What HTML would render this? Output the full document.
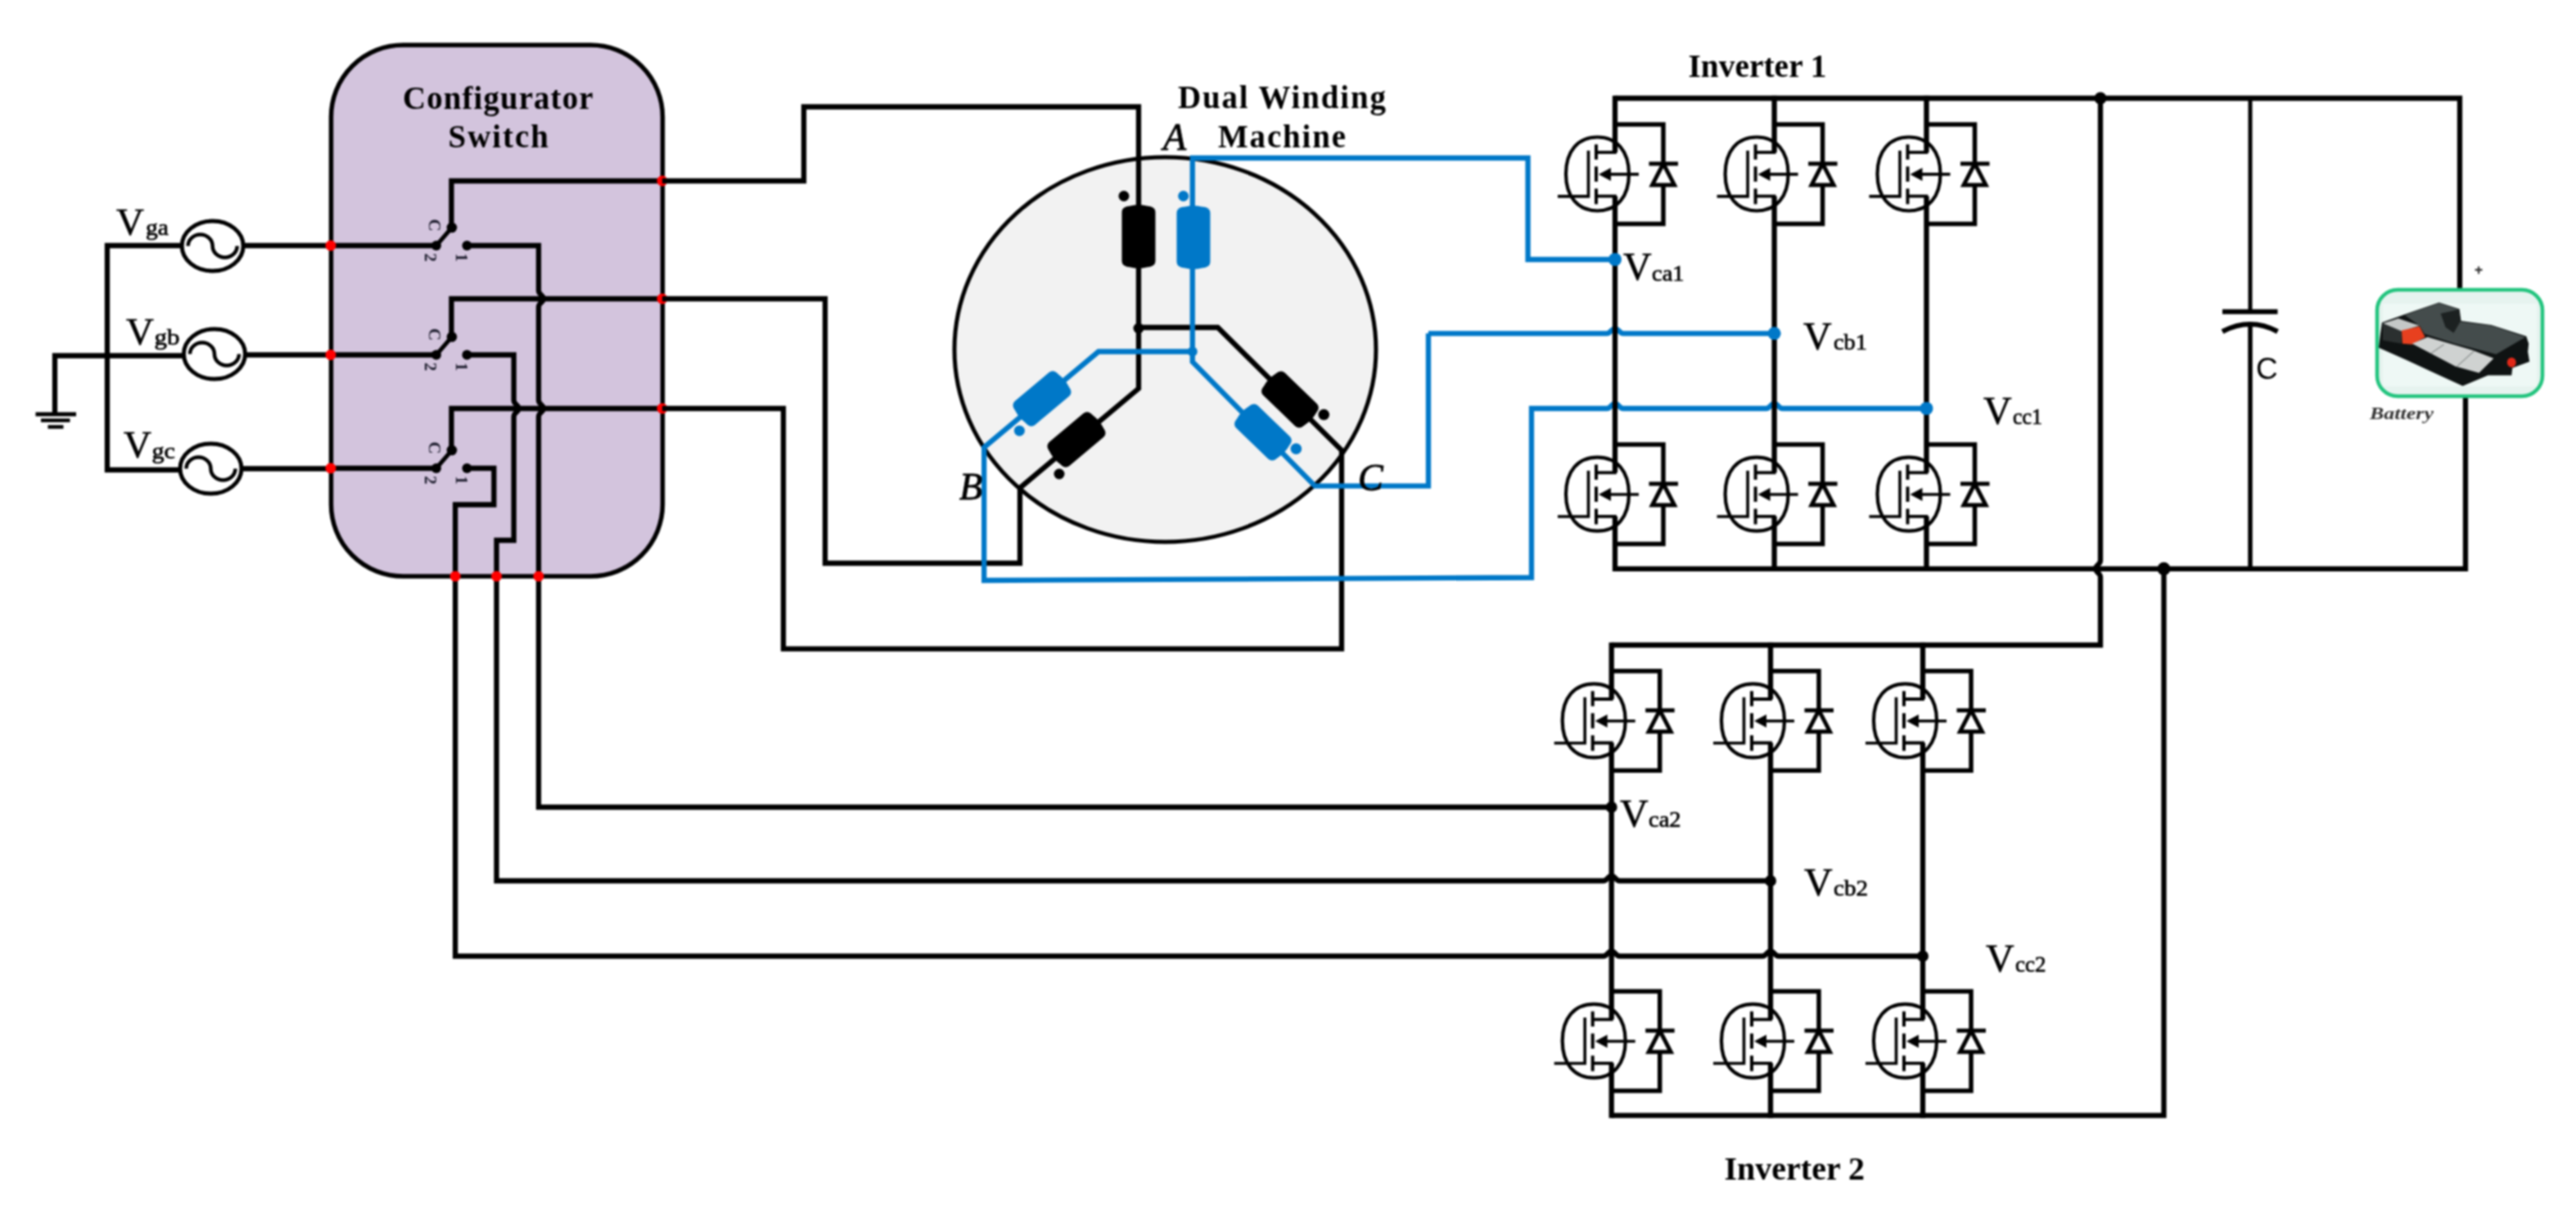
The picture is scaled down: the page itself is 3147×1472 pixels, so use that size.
<!DOCTYPE html><html><head><meta charset="utf-8"><style>html,body{margin:0;padding:0;background:#fff;}svg{display:block;filter:blur(1px);}</style></head><body>
<svg width="3147" height="1472" viewBox="0 0 3147 1472" font-family="Liberation Serif, serif">
<rect x="0" y="0" width="3147" height="1472" fill="#fff"/>
<rect x="404.5" y="55" width="405" height="649" rx="88" ry="88" fill="#d3c4dd" stroke="#000" stroke-width="5.5"/>
<text x="492" y="132.5" font-size="39" font-weight="bold" textLength="232.5" lengthAdjust="spacing">Configurator</text>
<text x="547.5" y="180" font-size="39" font-weight="bold" textLength="122.5" lengthAdjust="spacing">Switch</text>
<path d="M222,300 L131,300 L131,574 L220,574" fill="none" stroke="#000" stroke-width="6.3" stroke-linejoin="miter" />
<path d="M67,506 L67,434.5 L225,434.5" fill="none" stroke="#000" stroke-width="6.3" stroke-linejoin="miter" />
<path d="M297,300 L404,300" fill="none" stroke="#000" stroke-width="6.3" stroke-linejoin="miter" />
<path d="M299,433.5 L404,433.5" fill="none" stroke="#000" stroke-width="6.3" stroke-linejoin="miter" />
<path d="M295,572.5 L404,572.5" fill="none" stroke="#000" stroke-width="6.3" stroke-linejoin="miter" />
<ellipse cx="259.7" cy="300.5" rx="37.5" ry="30.5" fill="none" stroke="#000" stroke-width="5"/>
<path d="M229.7,300.5 A15,14 0 0 1 259.7,300.5 A15,14 0 0 0 289.7,300.5" fill="none" stroke="#000" stroke-width="4.5"/>
<ellipse cx="262" cy="432.5" rx="37.5" ry="30.5" fill="none" stroke="#000" stroke-width="5"/>
<path d="M232,432.5 A15,14 0 0 1 262,432.5 A15,14 0 0 0 292,432.5" fill="none" stroke="#000" stroke-width="4.5"/>
<ellipse cx="257.5" cy="572.5" rx="37.5" ry="30.5" fill="none" stroke="#000" stroke-width="5"/>
<path d="M227.5,572.5 A15,14 0 0 1 257.5,572.5 A15,14 0 0 0 287.5,572.5" fill="none" stroke="#000" stroke-width="4.5"/>
<line x1="43.5" y1="506" x2="93" y2="506" stroke="#000" stroke-width="5"/>
<line x1="50" y1="513.5" x2="85.5" y2="513.5" stroke="#000" stroke-width="4.5"/>
<line x1="58.5" y1="521.5" x2="77.5" y2="521.5" stroke="#000" stroke-width="4.5"/>
<text x="142" y="286.5" font-size="47" stroke="#000" stroke-width="0.6">V</text><text x="178" y="287.0" font-size="28" stroke="#000" stroke-width="0.7" textLength="28" lengthAdjust="spacingAndGlyphs">ga</text>
<text x="154" y="420.5" font-size="47" stroke="#000" stroke-width="0.6">V</text><text x="188.5" y="421.0" font-size="28" stroke="#000" stroke-width="0.7" textLength="31" lengthAdjust="spacingAndGlyphs">gb</text>
<text x="151" y="559" font-size="47" stroke="#000" stroke-width="0.6">V</text><text x="185.5" y="559.5" font-size="28" stroke="#000" stroke-width="0.7" textLength="28.5" lengthAdjust="spacingAndGlyphs">gc</text>
<path d="M404,300 L533,300" fill="none" stroke="#000" stroke-width="6.3" stroke-linejoin="miter" />
<path d="M533,300 L552,278" fill="none" stroke="#000" stroke-width="5" stroke-linejoin="miter" />
<path d="M809,221 L551.5,221 L551.5,278" fill="none" stroke="#000" stroke-width="6.3" stroke-linejoin="miter" />
<circle cx="533" cy="300" r="6" fill="#000"/>
<circle cx="570.5" cy="300" r="6" fill="#000"/>
<circle cx="552" cy="278" r="6.3" fill="#000"/>
<text x="0" y="0" dy="0.35em" font-size="21" font-weight="bold" text-anchor="middle" fill="#1c1c2c" transform="translate(531,275) rotate(90)">C</text>
<text x="0" y="0" dy="0.35em" font-size="21" font-weight="bold" text-anchor="middle" fill="#1c1c2c" transform="translate(526,314.5) rotate(90)">2</text>
<text x="0" y="0" dy="0.35em" font-size="21" font-weight="bold" text-anchor="middle" fill="#1c1c2c" transform="translate(564.5,314.5) rotate(90)">1</text>
<path d="M404,433.5 L533,433.5" fill="none" stroke="#000" stroke-width="6.3" stroke-linejoin="miter" />
<path d="M533,433.5 L552,411.5" fill="none" stroke="#000" stroke-width="5" stroke-linejoin="miter" />
<path d="M809,365 L551.5,365 L551.5,411.5" fill="none" stroke="#000" stroke-width="6.3" stroke-linejoin="miter" />
<circle cx="533" cy="433.5" r="6" fill="#000"/>
<circle cx="570.5" cy="433.5" r="6" fill="#000"/>
<circle cx="552" cy="411.5" r="6.3" fill="#000"/>
<text x="0" y="0" dy="0.35em" font-size="21" font-weight="bold" text-anchor="middle" fill="#1c1c2c" transform="translate(531,408.5) rotate(90)">C</text>
<text x="0" y="0" dy="0.35em" font-size="21" font-weight="bold" text-anchor="middle" fill="#1c1c2c" transform="translate(526,448.0) rotate(90)">2</text>
<text x="0" y="0" dy="0.35em" font-size="21" font-weight="bold" text-anchor="middle" fill="#1c1c2c" transform="translate(564.5,448.0) rotate(90)">1</text>
<path d="M404,572 L533,572" fill="none" stroke="#000" stroke-width="6.3" stroke-linejoin="miter" />
<path d="M533,572 L552,550" fill="none" stroke="#000" stroke-width="5" stroke-linejoin="miter" />
<path d="M809,499 L551.5,499 L551.5,550" fill="none" stroke="#000" stroke-width="6.3" stroke-linejoin="miter" />
<circle cx="533" cy="572" r="6" fill="#000"/>
<circle cx="570.5" cy="572" r="6" fill="#000"/>
<circle cx="552" cy="550" r="6.3" fill="#000"/>
<text x="0" y="0" dy="0.35em" font-size="21" font-weight="bold" text-anchor="middle" fill="#1c1c2c" transform="translate(531,547) rotate(90)">C</text>
<text x="0" y="0" dy="0.35em" font-size="21" font-weight="bold" text-anchor="middle" fill="#1c1c2c" transform="translate(526,586.5) rotate(90)">2</text>
<text x="0" y="0" dy="0.35em" font-size="21" font-weight="bold" text-anchor="middle" fill="#1c1c2c" transform="translate(564.5,586.5) rotate(90)">1</text>
<path d="M570.5,300 L658,300 L658,355 C658,360.0 664,360.5 664,365 C664,369.5 658,370.0 658,375 L658,489 C658,494.0 664,494.5 664,499 C664,503.5 658,504.0 658,509 L658,986 L1968.7,986" fill="none" stroke="#000" stroke-width="6.3" stroke-linejoin="miter" />
<path d="M570.5,433.5 L627.7,433.5 L627.7,489 C627.7,494.0 633.7,494.5 633.7,499 C633.7,503.5 627.7,504.0 627.7,509 L627.7,660 L606.6,660 L606.6,1076 L1958.7,1076 C1963.7,1076 1964.2,1070 1968.7,1070 C1973.2,1070 1973.7,1076 1978.7,1076 L2163,1076" fill="none" stroke="#000" stroke-width="6.3" stroke-linejoin="miter" />
<path d="M570.5,572 L603.4,572 L603.4,616.5 L556.2,616.5 L556.2,1168 L1958.7,1168 C1963.7,1168 1964.2,1162 1968.7,1162 C1973.2,1162 1973.7,1168 1978.7,1168 L2153,1168 C2158.0,1168 2158.5,1162 2163,1162 C2167.5,1162 2168.0,1168 2173,1168 L2349,1168" fill="none" stroke="#000" stroke-width="6.3" stroke-linejoin="miter" />
<circle cx="404" cy="300" r="6.5" fill="#ff0000"/>
<circle cx="404" cy="433.5" r="6.5" fill="#ff0000"/>
<circle cx="404" cy="572" r="6.5" fill="#ff0000"/>
<circle cx="809" cy="221" r="6.5" fill="#ff0000"/>
<circle cx="809" cy="365" r="6.5" fill="#ff0000"/>
<circle cx="809" cy="499" r="6.5" fill="#ff0000"/>
<circle cx="556.2" cy="704" r="6.5" fill="#ff0000"/>
<circle cx="606.6" cy="704" r="6.5" fill="#ff0000"/>
<circle cx="658" cy="704" r="6.5" fill="#ff0000"/>
<ellipse cx="1423.5" cy="427" rx="257.5" ry="235" fill="#f2f2f2" stroke="#000" stroke-width="5"/>
<path d="M809,221 L982,221 L982,130.5 L1391,130.5 L1391,474.6 L1246,596 L1246,688 L1008,688 L1008,365 L809,365" fill="none" stroke="#000" stroke-width="6.3" stroke-linejoin="miter" />
<path d="M809,499 L957,499 L957,792.7 L1639,792.7 L1639,550 L1487.7,400 L1391,400" fill="none" stroke="#000" stroke-width="6.3" stroke-linejoin="miter" />
<circle cx="1391" cy="401" r="6.5" fill="#000"/>
<path d="M1972.8,317 L1866.6,317 L1866.6,193 L1456.8,193 L1456.8,442 L1606.4,593.7 L1745,593.7 L1745,407.3" fill="none" stroke="#0078c8" stroke-width="6.3" stroke-linejoin="miter" />
<path d="M1745,407.3 L1963,407.3 C1968.0,407.3 1968.5,401.3 1973,401.3 C1977.5,401.3 1978.0,407.3 1983,407.3 L2168,407.3" fill="none" stroke="#0078c8" stroke-width="6.3" stroke-linejoin="miter" />
<path d="M1456.8,429.5 L1342,429.5 L1202.2,546.5 L1202.2,709 L1871,705.5 L1871,499 L1963,499 C1968.0,499 1968.5,493 1973,493 C1977.5,493 1978.0,499 1983,499 L2157.6,499 C2162.6,499 2163.1,493 2167.6,493 C2172.1,493 2172.6,499 2177.6,499 L2353.5,499" fill="none" stroke="#0078c8" stroke-width="6.3" stroke-linejoin="miter" />
<g transform="translate(1391,289) rotate(0)"><path d="M-20.5,-30 Q-20.5,-37 -10,-37.5 Q0,-40 10,-37.5 Q20.5,-37 20.5,-30 L20.5,30 Q20.5,37 10,37.5 Q0,40 -10,37.5 Q-20.5,37 -20.5,30 Z" fill="#000"/></g>
<g transform="translate(1458,290) rotate(0)"><path d="M-20.5,-30 Q-20.5,-37 -10,-37.5 Q0,-40 10,-37.5 Q20.5,-37 20.5,-30 L20.5,30 Q20.5,37 10,37.5 Q0,40 -10,37.5 Q-20.5,37 -20.5,30 Z" fill="#0078c8"/></g>
<g transform="translate(1315,537) rotate(50)"><path d="M-19,-27 Q-19,-34 -10,-34.5 Q0,-37 10,-34.5 Q19,-34 19,-27 L19,27 Q19,34 10,34.5 Q0,37 -10,34.5 Q-19,34 -19,27 Z" fill="#000"/></g>
<g transform="translate(1273,487) rotate(50)"><path d="M-19,-27 Q-19,-34 -10,-34.5 Q0,-37 10,-34.5 Q19,-34 19,-27 L19,27 Q19,34 10,34.5 Q0,37 -10,34.5 Q-19,34 -19,27 Z" fill="#0078c8"/></g>
<g transform="translate(1576,488) rotate(-46)"><path d="M-19,-27 Q-19,-34 -10,-34.5 Q0,-37 10,-34.5 Q19,-34 19,-27 L19,27 Q19,34 10,34.5 Q0,37 -10,34.5 Q-19,34 -19,27 Z" fill="#000"/></g>
<g transform="translate(1543,528) rotate(-46)"><path d="M-19,-27 Q-19,-34 -10,-34.5 Q0,-37 10,-34.5 Q19,-34 19,-27 L19,27 Q19,34 10,34.5 Q0,37 -10,34.5 Q-19,34 -19,27 Z" fill="#0078c8"/></g>
<circle cx="1373" cy="239.5" r="6.5" fill="#000"/>
<circle cx="1445.7" cy="239.5" r="6.5" fill="#0078c8"/>
<circle cx="1294" cy="579" r="6.5" fill="#000"/>
<circle cx="1245.4" cy="526.2" r="6.5" fill="#0078c8"/>
<circle cx="1617.3" cy="506.5" r="6.8" fill="#000"/>
<circle cx="1583.4" cy="548.3" r="6.8" fill="#0078c8"/>
<circle cx="1456.8" cy="429.5" r="6" fill="#0078c8"/>
<text x="1421" y="182.5" font-size="46" font-style="italic" stroke="#000" stroke-width="0.9">A</text>
<text x="1172" y="610" font-size="46" font-style="italic" stroke="#000" stroke-width="0.9">B</text>
<text x="1659" y="599" font-size="46" font-style="italic" stroke="#000" stroke-width="0.9">C</text>
<text x="1439" y="132" font-size="39" font-weight="bold" textLength="254" lengthAdjust="spacing">Dual Winding</text>
<text x="1488" y="179.5" font-size="39" font-weight="bold" textLength="156" lengthAdjust="spacing">Machine</text>
<path d="M1973,120 L3005,120 L3005,354" fill="none" stroke="#000" stroke-width="6.3" stroke-linejoin="miter" />
<path d="M1973,694.8 L3012,694.8 L3012,484" fill="none" stroke="#000" stroke-width="6.3" stroke-linejoin="miter" />
<line x1="1973" y1="116.85" x2="1973" y2="186.20000000000002" stroke="#000" stroke-width="6.3"/>
<line x1="1973" y1="239.70000000000002" x2="1973" y2="577.3" stroke="#000" stroke-width="6.3"/>
<line x1="1973" y1="630.8" x2="1973" y2="697.9499999999999" stroke="#000" stroke-width="6.3"/>
<path d="M1973,151.9 L2032,151.9 L2032,273.4 L1973,273.4" fill="none" stroke="#000" stroke-width="5.5"/><line x1="2014.5" y1="199.9" x2="2050" y2="199.9" stroke="#000" stroke-width="5"/><polygon points="2032,199.9 2018.5,225.9 2045.5,225.9" fill="#fff" stroke="#000" stroke-width="5" stroke-linejoin="miter"/><path d="M1913.0,212.5 C1913.0,184.6 1927.6,167.5 1951.5,167.5 C1975.4,167.5 1990.0,184.6 1990.0,212.5 C1990.0,240.4 1975.4,257.5 1951.5,257.5 C1927.6,257.5 1913.0,240.4 1913.0,212.5 Z" fill="none" stroke="#000" stroke-width="4.2"/><path d="M1903,239.9 L1940.5,239.9 L1940.5,183.9" fill="none" stroke="#000" stroke-width="3.6"/><line x1="1950" y1="176.4" x2="1950" y2="194.9" stroke="#000" stroke-width="4"/><line x1="1950" y1="203.4" x2="1950" y2="221.9" stroke="#000" stroke-width="4"/><line x1="1950" y1="230.4" x2="1950" y2="249.4" stroke="#000" stroke-width="4"/><path d="M1950,186.20000000000002 L1973,186.20000000000002 L1973,172.9" fill="none" stroke="#000" stroke-width="3.8"/><path d="M1950,239.70000000000002 L1973,239.70000000000002 L1973,252.9" fill="none" stroke="#000" stroke-width="3.8"/><line x1="1965" y1="212.9" x2="2002" y2="212.9" stroke="#000" stroke-width="3.6"/><polygon points="1953,212.9 1968,204.9 1968,220.9" fill="#000"/>
<path d="M1973,543 L2032,543 L2032,664.5 L1973,664.5" fill="none" stroke="#000" stroke-width="5.5"/><line x1="2014.5" y1="591" x2="2050" y2="591" stroke="#000" stroke-width="5"/><polygon points="2032,591 2018.5,617 2045.5,617" fill="#fff" stroke="#000" stroke-width="5" stroke-linejoin="miter"/><path d="M1913.0,603.6 C1913.0,575.7 1927.6,558.6 1951.5,558.6 C1975.4,558.6 1990.0,575.7 1990.0,603.6 C1990.0,631.5 1975.4,648.6 1951.5,648.6 C1927.6,648.6 1913.0,631.5 1913.0,603.6 Z" fill="none" stroke="#000" stroke-width="4.2"/><path d="M1903,631 L1940.5,631 L1940.5,575" fill="none" stroke="#000" stroke-width="3.6"/><line x1="1950" y1="567.5" x2="1950" y2="586" stroke="#000" stroke-width="4"/><line x1="1950" y1="594.5" x2="1950" y2="613" stroke="#000" stroke-width="4"/><line x1="1950" y1="621.5" x2="1950" y2="640.5" stroke="#000" stroke-width="4"/><path d="M1950,577.3 L1973,577.3 L1973,564" fill="none" stroke="#000" stroke-width="3.8"/><path d="M1950,630.8 L1973,630.8 L1973,644" fill="none" stroke="#000" stroke-width="3.8"/><line x1="1965" y1="604" x2="2002" y2="604" stroke="#000" stroke-width="3.6"/><polygon points="1953,604 1968,596 1968,612" fill="#000"/>
<line x1="2167.6" y1="116.85" x2="2167.6" y2="186.20000000000002" stroke="#000" stroke-width="6.3"/>
<line x1="2167.6" y1="239.70000000000002" x2="2167.6" y2="577.3" stroke="#000" stroke-width="6.3"/>
<line x1="2167.6" y1="630.8" x2="2167.6" y2="697.9499999999999" stroke="#000" stroke-width="6.3"/>
<path d="M2167.6,151.9 L2226.6,151.9 L2226.6,273.4 L2167.6,273.4" fill="none" stroke="#000" stroke-width="5.5"/><line x1="2209.1" y1="199.9" x2="2244.6" y2="199.9" stroke="#000" stroke-width="5"/><polygon points="2226.6,199.9 2213.1,225.9 2240.1,225.9" fill="#fff" stroke="#000" stroke-width="5" stroke-linejoin="miter"/><path d="M2107.6,212.5 C2107.6,184.6 2122.2,167.5 2146.1,167.5 C2170.0,167.5 2184.6,184.6 2184.6,212.5 C2184.6,240.4 2170.0,257.5 2146.1,257.5 C2122.2,257.5 2107.6,240.4 2107.6,212.5 Z" fill="none" stroke="#000" stroke-width="4.2"/><path d="M2097.6,239.9 L2135.1,239.9 L2135.1,183.9" fill="none" stroke="#000" stroke-width="3.6"/><line x1="2144.6" y1="176.4" x2="2144.6" y2="194.9" stroke="#000" stroke-width="4"/><line x1="2144.6" y1="203.4" x2="2144.6" y2="221.9" stroke="#000" stroke-width="4"/><line x1="2144.6" y1="230.4" x2="2144.6" y2="249.4" stroke="#000" stroke-width="4"/><path d="M2144.6,186.20000000000002 L2167.6,186.20000000000002 L2167.6,172.9" fill="none" stroke="#000" stroke-width="3.8"/><path d="M2144.6,239.70000000000002 L2167.6,239.70000000000002 L2167.6,252.9" fill="none" stroke="#000" stroke-width="3.8"/><line x1="2159.6" y1="212.9" x2="2196.6" y2="212.9" stroke="#000" stroke-width="3.6"/><polygon points="2147.6,212.9 2162.6,204.9 2162.6,220.9" fill="#000"/>
<path d="M2167.6,543 L2226.6,543 L2226.6,664.5 L2167.6,664.5" fill="none" stroke="#000" stroke-width="5.5"/><line x1="2209.1" y1="591" x2="2244.6" y2="591" stroke="#000" stroke-width="5"/><polygon points="2226.6,591 2213.1,617 2240.1,617" fill="#fff" stroke="#000" stroke-width="5" stroke-linejoin="miter"/><path d="M2107.6,603.6 C2107.6,575.7 2122.2,558.6 2146.1,558.6 C2170.0,558.6 2184.6,575.7 2184.6,603.6 C2184.6,631.5 2170.0,648.6 2146.1,648.6 C2122.2,648.6 2107.6,631.5 2107.6,603.6 Z" fill="none" stroke="#000" stroke-width="4.2"/><path d="M2097.6,631 L2135.1,631 L2135.1,575" fill="none" stroke="#000" stroke-width="3.6"/><line x1="2144.6" y1="567.5" x2="2144.6" y2="586" stroke="#000" stroke-width="4"/><line x1="2144.6" y1="594.5" x2="2144.6" y2="613" stroke="#000" stroke-width="4"/><line x1="2144.6" y1="621.5" x2="2144.6" y2="640.5" stroke="#000" stroke-width="4"/><path d="M2144.6,577.3 L2167.6,577.3 L2167.6,564" fill="none" stroke="#000" stroke-width="3.8"/><path d="M2144.6,630.8 L2167.6,630.8 L2167.6,644" fill="none" stroke="#000" stroke-width="3.8"/><line x1="2159.6" y1="604" x2="2196.6" y2="604" stroke="#000" stroke-width="3.6"/><polygon points="2147.6,604 2162.6,596 2162.6,612" fill="#000"/>
<line x1="2353.5" y1="116.85" x2="2353.5" y2="186.20000000000002" stroke="#000" stroke-width="6.3"/>
<line x1="2353.5" y1="239.70000000000002" x2="2353.5" y2="577.3" stroke="#000" stroke-width="6.3"/>
<line x1="2353.5" y1="630.8" x2="2353.5" y2="697.9499999999999" stroke="#000" stroke-width="6.3"/>
<path d="M2353.5,151.9 L2412.5,151.9 L2412.5,273.4 L2353.5,273.4" fill="none" stroke="#000" stroke-width="5.5"/><line x1="2395.0" y1="199.9" x2="2430.5" y2="199.9" stroke="#000" stroke-width="5"/><polygon points="2412.5,199.9 2399.0,225.9 2426.0,225.9" fill="#fff" stroke="#000" stroke-width="5" stroke-linejoin="miter"/><path d="M2293.5,212.5 C2293.5,184.6 2308.1,167.5 2332.0,167.5 C2355.9,167.5 2370.5,184.6 2370.5,212.5 C2370.5,240.4 2355.9,257.5 2332.0,257.5 C2308.1,257.5 2293.5,240.4 2293.5,212.5 Z" fill="none" stroke="#000" stroke-width="4.2"/><path d="M2283.5,239.9 L2321.0,239.9 L2321.0,183.9" fill="none" stroke="#000" stroke-width="3.6"/><line x1="2330.5" y1="176.4" x2="2330.5" y2="194.9" stroke="#000" stroke-width="4"/><line x1="2330.5" y1="203.4" x2="2330.5" y2="221.9" stroke="#000" stroke-width="4"/><line x1="2330.5" y1="230.4" x2="2330.5" y2="249.4" stroke="#000" stroke-width="4"/><path d="M2330.5,186.20000000000002 L2353.5,186.20000000000002 L2353.5,172.9" fill="none" stroke="#000" stroke-width="3.8"/><path d="M2330.5,239.70000000000002 L2353.5,239.70000000000002 L2353.5,252.9" fill="none" stroke="#000" stroke-width="3.8"/><line x1="2345.5" y1="212.9" x2="2382.5" y2="212.9" stroke="#000" stroke-width="3.6"/><polygon points="2333.5,212.9 2348.5,204.9 2348.5,220.9" fill="#000"/>
<path d="M2353.5,543 L2412.5,543 L2412.5,664.5 L2353.5,664.5" fill="none" stroke="#000" stroke-width="5.5"/><line x1="2395.0" y1="591" x2="2430.5" y2="591" stroke="#000" stroke-width="5"/><polygon points="2412.5,591 2399.0,617 2426.0,617" fill="#fff" stroke="#000" stroke-width="5" stroke-linejoin="miter"/><path d="M2293.5,603.6 C2293.5,575.7 2308.1,558.6 2332.0,558.6 C2355.9,558.6 2370.5,575.7 2370.5,603.6 C2370.5,631.5 2355.9,648.6 2332.0,648.6 C2308.1,648.6 2293.5,631.5 2293.5,603.6 Z" fill="none" stroke="#000" stroke-width="4.2"/><path d="M2283.5,631 L2321.0,631 L2321.0,575" fill="none" stroke="#000" stroke-width="3.6"/><line x1="2330.5" y1="567.5" x2="2330.5" y2="586" stroke="#000" stroke-width="4"/><line x1="2330.5" y1="594.5" x2="2330.5" y2="613" stroke="#000" stroke-width="4"/><line x1="2330.5" y1="621.5" x2="2330.5" y2="640.5" stroke="#000" stroke-width="4"/><path d="M2330.5,577.3 L2353.5,577.3 L2353.5,564" fill="none" stroke="#000" stroke-width="3.8"/><path d="M2330.5,630.8 L2353.5,630.8 L2353.5,644" fill="none" stroke="#000" stroke-width="3.8"/><line x1="2345.5" y1="604" x2="2382.5" y2="604" stroke="#000" stroke-width="3.6"/><polygon points="2333.5,604 2348.5,596 2348.5,612" fill="#000"/>
<circle cx="2566" cy="120" r="7.5" fill="#000"/>
<path d="M2566,120 L2566,684.8 C2566,689.8 2560,690.3 2560,694.8 C2560,699.3 2566,699.8 2566,704.8 L2566,788 L1968.7,788" fill="none" stroke="#000" stroke-width="6.3" stroke-linejoin="miter" />
<line x1="2749" y1="120" x2="2749" y2="380.7" stroke="#000" stroke-width="5"/>
<line x1="2715" y1="380.7" x2="2782.5" y2="380.7" stroke="#000" stroke-width="6"/>
<path d="M2715,405 Q2749,387 2782.5,405" fill="none" stroke="#000" stroke-width="6"/>
<line x1="2749" y1="397" x2="2749" y2="694.8" stroke="#000" stroke-width="5.5"/>
<text x="2756" y="463" font-family="Liberation Sans, sans-serif" font-size="37">C</text>
<rect x="2904" y="354" width="202" height="130" rx="25" ry="25" fill="#e6f3ef" stroke="#22c47e" stroke-width="4.5"/>
<rect x="2911" y="371" width="188" height="101" fill="#eef8f5"/>
<g><polygon points="2910.0,393.9 2937.8,383.9 2979.7,369.5 3004.6,377.4 3006.6,391.9 3043.4,396.9 3086.3,410.8 3089.2,419.8 3088.2,429.7 3090.2,441.7 3069.3,449.6 3068.3,458.6 3039.4,458.6 3008.6,471.6 2973.7,455.6 2939.8,439.7 2906.0,424.7 2908.0,407.8" fill="#0f1313"/><polygon points="2937.8,384.9 2979.7,370.0 3003.6,377.9 3005.6,392.9 3043.4,397.8 3085.3,411.8 3049.4,432.7 2999.6,419.8 2961.8,407.8 2955.8,397.8" fill="#444c4c"/><polygon points="2981.7,382.9 3003.6,377.9 3005.6,392.9 2997.6,406.8 2987.6,399.8" fill="#1c2121"/><polygon points="2911.0,394.9 2929.9,388.9 2955.8,397.8 2933.9,404.8" fill="#c4c8c7"/><polygon points="2911.0,394.9 2933.9,404.8 2933.9,419.8 2911.0,415.8" fill="#2b3030"/><polygon points="2933.9,403.8 2955.8,398.8 2962.7,411.8 2946.8,420.8 2934.9,419.8" fill="#e8401f"/><polygon points="2946.8,419.8 2965.7,411.8 3020.5,427.7 3046.4,437.7 3028.5,455.6 2999.6,447.6 2969.7,431.7" fill="#cfd2d1"/><path d="M2969.7,431.7 L2985.7,420.8 M3001.6,447.6 L3022.5,428.7" stroke="#8a8f8e" stroke-width="1.2" fill="none"/><ellipse cx="3068.3" cy="442.7" rx="5.5" ry="6" fill="#e02818"/></g>
<text x="3028" y="336" font-size="17" font-weight="bold" stroke="#333" stroke-width="1" fill="#333" text-anchor="middle">+</text>
<text x="2895" y="512" font-size="22" font-weight="bold" font-style="italic" fill="#333" textLength="78" lengthAdjust="spacingAndGlyphs">Battery</text>
<text x="2062.5" y="93.5" font-size="40" font-weight="bold" textLength="169" lengthAdjust="spacingAndGlyphs">Inverter 1</text>
<circle cx="1973" cy="317" r="8" fill="#0078c8"/>
<circle cx="2167.6" cy="407.3" r="8" fill="#0078c8"/>
<circle cx="2353.5" cy="499" r="8" fill="#0078c8"/>
<text x="1983" y="342" font-size="48" stroke="#000" stroke-width="0.6">V</text><text x="2018" y="342.5" font-size="28" stroke="#000" stroke-width="0.7" textLength="39.5" lengthAdjust="spacingAndGlyphs">ca1</text>
<text x="2203" y="426.5" font-size="48" stroke="#000" stroke-width="0.6">V</text><text x="2240" y="427.0" font-size="28" stroke="#000" stroke-width="0.7" textLength="41" lengthAdjust="spacingAndGlyphs">cb1</text>
<text x="2423" y="517.5" font-size="48" stroke="#000" stroke-width="0.6">V</text><text x="2459" y="518.0" font-size="28" stroke="#000" stroke-width="0.7" textLength="36" lengthAdjust="spacingAndGlyphs">cc1</text>
<path d="M1968.7,1362.6 L2643.5,1362.6 L2643.5,694.8" fill="none" stroke="#000" stroke-width="6.3" stroke-linejoin="miter" />
<line x1="1968.7" y1="784.85" x2="1968.7" y2="854.0" stroke="#000" stroke-width="6.3"/>
<line x1="1968.7" y1="907.5" x2="1968.7" y2="1245.3" stroke="#000" stroke-width="6.3"/>
<line x1="1968.7" y1="1298.8" x2="1968.7" y2="1365.75" stroke="#000" stroke-width="6.3"/>
<path d="M1968.7,819.7 L2027.7,819.7 L2027.7,941.2 L1968.7,941.2" fill="none" stroke="#000" stroke-width="5.5"/><line x1="2010.2" y1="867.7" x2="2045.7" y2="867.7" stroke="#000" stroke-width="5"/><polygon points="2027.7,867.7 2014.2,893.7 2041.2,893.7" fill="#fff" stroke="#000" stroke-width="5" stroke-linejoin="miter"/><path d="M1908.7,880.3000000000001 C1908.7,852.4 1923.3,835.3000000000001 1947.2,835.3000000000001 C1971.1,835.3000000000001 1985.7,852.4 1985.7,880.3000000000001 C1985.7,908.2 1971.1,925.3000000000001 1947.2,925.3000000000001 C1923.3,925.3000000000001 1908.7,908.2 1908.7,880.3000000000001 Z" fill="none" stroke="#000" stroke-width="4.2"/><path d="M1898.7,907.7 L1936.2,907.7 L1936.2,851.7" fill="none" stroke="#000" stroke-width="3.6"/><line x1="1945.7" y1="844.2" x2="1945.7" y2="862.7" stroke="#000" stroke-width="4"/><line x1="1945.7" y1="871.2" x2="1945.7" y2="889.7" stroke="#000" stroke-width="4"/><line x1="1945.7" y1="898.2" x2="1945.7" y2="917.2" stroke="#000" stroke-width="4"/><path d="M1945.7,854.0 L1968.7,854.0 L1968.7,840.7" fill="none" stroke="#000" stroke-width="3.8"/><path d="M1945.7,907.5 L1968.7,907.5 L1968.7,920.7" fill="none" stroke="#000" stroke-width="3.8"/><line x1="1960.7" y1="880.7" x2="1997.7" y2="880.7" stroke="#000" stroke-width="3.6"/><polygon points="1948.7,880.7 1963.7,872.7 1963.7,888.7" fill="#000"/>
<path d="M1968.7,1211 L2027.7,1211 L2027.7,1332.5 L1968.7,1332.5" fill="none" stroke="#000" stroke-width="5.5"/><line x1="2010.2" y1="1259" x2="2045.7" y2="1259" stroke="#000" stroke-width="5"/><polygon points="2027.7,1259 2014.2,1285 2041.2,1285" fill="#fff" stroke="#000" stroke-width="5" stroke-linejoin="miter"/><path d="M1908.7,1271.6 C1908.7,1243.7 1923.3,1226.6 1947.2,1226.6 C1971.1,1226.6 1985.7,1243.7 1985.7,1271.6 C1985.7,1299.5 1971.1,1316.6 1947.2,1316.6 C1923.3,1316.6 1908.7,1299.5 1908.7,1271.6 Z" fill="none" stroke="#000" stroke-width="4.2"/><path d="M1898.7,1299 L1936.2,1299 L1936.2,1243" fill="none" stroke="#000" stroke-width="3.6"/><line x1="1945.7" y1="1235.5" x2="1945.7" y2="1254" stroke="#000" stroke-width="4"/><line x1="1945.7" y1="1262.5" x2="1945.7" y2="1281" stroke="#000" stroke-width="4"/><line x1="1945.7" y1="1289.5" x2="1945.7" y2="1308.5" stroke="#000" stroke-width="4"/><path d="M1945.7,1245.3 L1968.7,1245.3 L1968.7,1232" fill="none" stroke="#000" stroke-width="3.8"/><path d="M1945.7,1298.8 L1968.7,1298.8 L1968.7,1312" fill="none" stroke="#000" stroke-width="3.8"/><line x1="1960.7" y1="1272" x2="1997.7" y2="1272" stroke="#000" stroke-width="3.6"/><polygon points="1948.7,1272 1963.7,1264 1963.7,1280" fill="#000"/>
<line x1="2163" y1="784.85" x2="2163" y2="854.0" stroke="#000" stroke-width="6.3"/>
<line x1="2163" y1="907.5" x2="2163" y2="1245.3" stroke="#000" stroke-width="6.3"/>
<line x1="2163" y1="1298.8" x2="2163" y2="1365.75" stroke="#000" stroke-width="6.3"/>
<path d="M2163,819.7 L2222,819.7 L2222,941.2 L2163,941.2" fill="none" stroke="#000" stroke-width="5.5"/><line x1="2204.5" y1="867.7" x2="2240" y2="867.7" stroke="#000" stroke-width="5"/><polygon points="2222,867.7 2208.5,893.7 2235.5,893.7" fill="#fff" stroke="#000" stroke-width="5" stroke-linejoin="miter"/><path d="M2103.0,880.3000000000001 C2103.0,852.4 2117.6,835.3000000000001 2141.5,835.3000000000001 C2165.4,835.3000000000001 2180.0,852.4 2180.0,880.3000000000001 C2180.0,908.2 2165.4,925.3000000000001 2141.5,925.3000000000001 C2117.6,925.3000000000001 2103.0,908.2 2103.0,880.3000000000001 Z" fill="none" stroke="#000" stroke-width="4.2"/><path d="M2093,907.7 L2130.5,907.7 L2130.5,851.7" fill="none" stroke="#000" stroke-width="3.6"/><line x1="2140" y1="844.2" x2="2140" y2="862.7" stroke="#000" stroke-width="4"/><line x1="2140" y1="871.2" x2="2140" y2="889.7" stroke="#000" stroke-width="4"/><line x1="2140" y1="898.2" x2="2140" y2="917.2" stroke="#000" stroke-width="4"/><path d="M2140,854.0 L2163,854.0 L2163,840.7" fill="none" stroke="#000" stroke-width="3.8"/><path d="M2140,907.5 L2163,907.5 L2163,920.7" fill="none" stroke="#000" stroke-width="3.8"/><line x1="2155" y1="880.7" x2="2192" y2="880.7" stroke="#000" stroke-width="3.6"/><polygon points="2143,880.7 2158,872.7 2158,888.7" fill="#000"/>
<path d="M2163,1211 L2222,1211 L2222,1332.5 L2163,1332.5" fill="none" stroke="#000" stroke-width="5.5"/><line x1="2204.5" y1="1259" x2="2240" y2="1259" stroke="#000" stroke-width="5"/><polygon points="2222,1259 2208.5,1285 2235.5,1285" fill="#fff" stroke="#000" stroke-width="5" stroke-linejoin="miter"/><path d="M2103.0,1271.6 C2103.0,1243.7 2117.6,1226.6 2141.5,1226.6 C2165.4,1226.6 2180.0,1243.7 2180.0,1271.6 C2180.0,1299.5 2165.4,1316.6 2141.5,1316.6 C2117.6,1316.6 2103.0,1299.5 2103.0,1271.6 Z" fill="none" stroke="#000" stroke-width="4.2"/><path d="M2093,1299 L2130.5,1299 L2130.5,1243" fill="none" stroke="#000" stroke-width="3.6"/><line x1="2140" y1="1235.5" x2="2140" y2="1254" stroke="#000" stroke-width="4"/><line x1="2140" y1="1262.5" x2="2140" y2="1281" stroke="#000" stroke-width="4"/><line x1="2140" y1="1289.5" x2="2140" y2="1308.5" stroke="#000" stroke-width="4"/><path d="M2140,1245.3 L2163,1245.3 L2163,1232" fill="none" stroke="#000" stroke-width="3.8"/><path d="M2140,1298.8 L2163,1298.8 L2163,1312" fill="none" stroke="#000" stroke-width="3.8"/><line x1="2155" y1="1272" x2="2192" y2="1272" stroke="#000" stroke-width="3.6"/><polygon points="2143,1272 2158,1264 2158,1280" fill="#000"/>
<line x1="2349" y1="784.85" x2="2349" y2="854.0" stroke="#000" stroke-width="6.3"/>
<line x1="2349" y1="907.5" x2="2349" y2="1245.3" stroke="#000" stroke-width="6.3"/>
<line x1="2349" y1="1298.8" x2="2349" y2="1365.75" stroke="#000" stroke-width="6.3"/>
<path d="M2349,819.7 L2408,819.7 L2408,941.2 L2349,941.2" fill="none" stroke="#000" stroke-width="5.5"/><line x1="2390.5" y1="867.7" x2="2426" y2="867.7" stroke="#000" stroke-width="5"/><polygon points="2408,867.7 2394.5,893.7 2421.5,893.7" fill="#fff" stroke="#000" stroke-width="5" stroke-linejoin="miter"/><path d="M2289.0,880.3000000000001 C2289.0,852.4 2303.6,835.3000000000001 2327.5,835.3000000000001 C2351.4,835.3000000000001 2366.0,852.4 2366.0,880.3000000000001 C2366.0,908.2 2351.4,925.3000000000001 2327.5,925.3000000000001 C2303.6,925.3000000000001 2289.0,908.2 2289.0,880.3000000000001 Z" fill="none" stroke="#000" stroke-width="4.2"/><path d="M2279,907.7 L2316.5,907.7 L2316.5,851.7" fill="none" stroke="#000" stroke-width="3.6"/><line x1="2326" y1="844.2" x2="2326" y2="862.7" stroke="#000" stroke-width="4"/><line x1="2326" y1="871.2" x2="2326" y2="889.7" stroke="#000" stroke-width="4"/><line x1="2326" y1="898.2" x2="2326" y2="917.2" stroke="#000" stroke-width="4"/><path d="M2326,854.0 L2349,854.0 L2349,840.7" fill="none" stroke="#000" stroke-width="3.8"/><path d="M2326,907.5 L2349,907.5 L2349,920.7" fill="none" stroke="#000" stroke-width="3.8"/><line x1="2341" y1="880.7" x2="2378" y2="880.7" stroke="#000" stroke-width="3.6"/><polygon points="2329,880.7 2344,872.7 2344,888.7" fill="#000"/>
<path d="M2349,1211 L2408,1211 L2408,1332.5 L2349,1332.5" fill="none" stroke="#000" stroke-width="5.5"/><line x1="2390.5" y1="1259" x2="2426" y2="1259" stroke="#000" stroke-width="5"/><polygon points="2408,1259 2394.5,1285 2421.5,1285" fill="#fff" stroke="#000" stroke-width="5" stroke-linejoin="miter"/><path d="M2289.0,1271.6 C2289.0,1243.7 2303.6,1226.6 2327.5,1226.6 C2351.4,1226.6 2366.0,1243.7 2366.0,1271.6 C2366.0,1299.5 2351.4,1316.6 2327.5,1316.6 C2303.6,1316.6 2289.0,1299.5 2289.0,1271.6 Z" fill="none" stroke="#000" stroke-width="4.2"/><path d="M2279,1299 L2316.5,1299 L2316.5,1243" fill="none" stroke="#000" stroke-width="3.6"/><line x1="2326" y1="1235.5" x2="2326" y2="1254" stroke="#000" stroke-width="4"/><line x1="2326" y1="1262.5" x2="2326" y2="1281" stroke="#000" stroke-width="4"/><line x1="2326" y1="1289.5" x2="2326" y2="1308.5" stroke="#000" stroke-width="4"/><path d="M2326,1245.3 L2349,1245.3 L2349,1232" fill="none" stroke="#000" stroke-width="3.8"/><path d="M2326,1298.8 L2349,1298.8 L2349,1312" fill="none" stroke="#000" stroke-width="3.8"/><line x1="2341" y1="1272" x2="2378" y2="1272" stroke="#000" stroke-width="3.6"/><polygon points="2329,1272 2344,1264 2344,1280" fill="#000"/>
<circle cx="2643.5" cy="694.8" r="8" fill="#000"/>
<circle cx="1968.7" cy="986" r="7" fill="#000"/>
<circle cx="2163" cy="1076" r="7" fill="#000"/>
<circle cx="2349" cy="1168" r="7" fill="#000"/>
<text x="1979" y="1009.5" font-size="48" stroke="#000" stroke-width="0.6">V</text><text x="2014" y="1010.0" font-size="28" stroke="#000" stroke-width="0.7" textLength="39.5" lengthAdjust="spacingAndGlyphs">ca2</text>
<text x="2204" y="1093.5" font-size="48" stroke="#000" stroke-width="0.6">V</text><text x="2240" y="1094.0" font-size="28" stroke="#000" stroke-width="0.7" textLength="42" lengthAdjust="spacingAndGlyphs">cb2</text>
<text x="2426" y="1186.5" font-size="48" stroke="#000" stroke-width="0.6">V</text><text x="2462" y="1187.0" font-size="28" stroke="#000" stroke-width="0.7" textLength="37.5" lengthAdjust="spacingAndGlyphs">cc2</text>
<text x="2106.5" y="1441" font-size="40" font-weight="bold" textLength="171.5" lengthAdjust="spacingAndGlyphs">Inverter 2</text>
</svg></body></html>
